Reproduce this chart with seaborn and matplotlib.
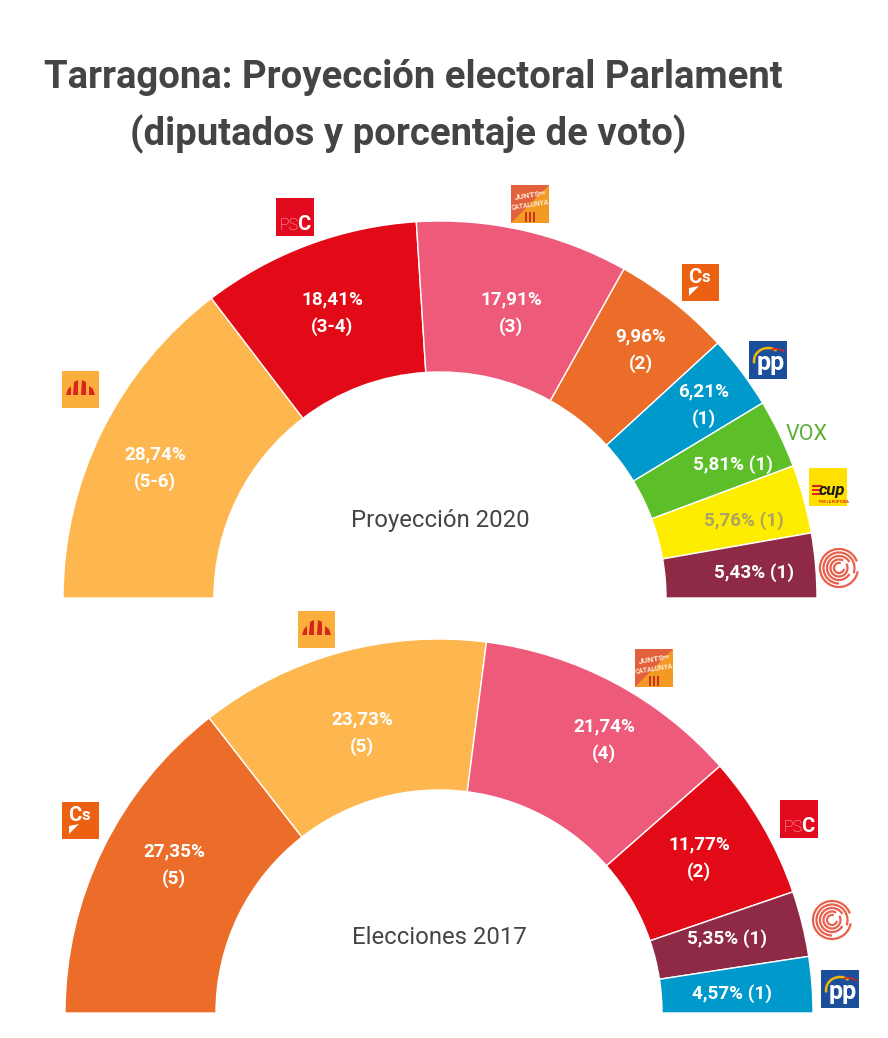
import matplotlib
matplotlib.use('Agg')
import matplotlib.pyplot as plt
import seaborn as sns
from matplotlib.patches import Rectangle, Arc, Polygon

# proyeccion 2020
parties_2020 = ['ERC', 'PSC', 'JxC', 'Cs', 'PP', 'VOX', 'CUP', 'Comuns']
pct_2020 = [28.74, 18.41, 17.91, 9.96, 6.21, 5.81, 5.76, 5.43]
seats_2020 = ['(5-6)', '(3-4)', '(3)', '(2)', '(1)', '(1)', '(1)', '(1)']

# elecciones 2017
parties_2017 = ['Cs', 'ERC', 'JxC', 'PSC', 'Comuns', 'PP']
pct_2017 = [27.35, 23.73, 21.74, 11.77, 5.35, 4.57]
seats_2017 = ['(5)', '(5)', '(4)', '(2)', '(1)', '(1)']

party_colors = {
    'ERC': '#FDB74E', 'PSC': '#E20A16', 'JxC': '#EE5A7A', 'Cs': '#EC6D29',
    'PP': '#0099CC', 'VOX': '#5CBF2A', 'CUP': '#FFED00', 'Comuns': '#8E2A45',
}

W, H = 888, 1038
DARK = '#444444'
LABEL_SIZE = 13.6

sns.set_theme(style='white')
plt.rcParams['font.family'] = ['Roboto', 'DejaVu Sans']

fig = plt.figure(figsize=(W / 100, H / 100), dpi=100, facecolor='white')
ax = fig.add_axes([0, 0, 1, 1])


def yy(py):
    # pixel rows of the picture -> axis coordinates
    return H - py


def hemicycle(values, parties, seats, cx, base, R, r, label_pos, single_line):
    colors = sns.color_palette([party_colors[p] for p in parties])
    wedges, _ = ax.pie(list(values) + [sum(values)], colors=list(colors) + ['white'],
                       center=(cx, yy(base)), radius=R, startangle=180, counterclock=False,
                       wedgeprops=dict(width=R - r, edgecolor='white', linewidth=1.0))
    wedges[-1].set_visible(False)
    for val, seat, party, (px, py), one in zip(values, seats, parties, label_pos, single_line):
        txt = f'{val:.2f}%'.replace('.', ',')
        color = '#ABA35E' if party == 'CUP' else 'white'
        if one:
            ax.text(px, yy(py), f'{txt} {seat}', color=color, fontsize=LABEL_SIZE, fontweight='bold',
                    ha='center', va='center')
        else:
            ax.text(px, yy(py - 13.5), txt, color=color, fontsize=LABEL_SIZE, fontweight='bold',
                    ha='center', va='center')
            ax.text(px, yy(py + 13.5), seat, color=color, fontsize=LABEL_SIZE, fontweight='bold',
                    ha='center', va='center')


def square(x, y, color, size=38):
    ax.add_patch(Rectangle((x, yy(y + size)), size, size, facecolor=color, edgecolor='none', zorder=3))


def poly(x, y, pts, color):
    ax.add_patch(Polygon([(x + a, yy(y + b)) for a, b in pts], facecolor=color, edgecolor='none', zorder=4))


def logo_psc(x, y):
    square(x, y, '#E20A1E')
    ax.text(x + 3, yy(y + 27), 'PS', color='#F8C8C8', fontsize=11.5, fontweight='light',
            ha='left', va='center', zorder=4)
    ax.text(x + 21.5, yy(y + 27), 'C', color='white', fontsize=14.5, fontweight='bold',
            ha='left', va='center', zorder=4)


def logo_erc(x, y):
    square(x, y, '#FBAE3C', 37)
    bars = [
        [(4, 24), (9, 24), (9, 15), (6, 18)],
        [(11, 24), (16, 24), (16, 9), (12, 11)],
        [(19, 24), (24, 24), (24, 11), (20, 9)],
        [(27, 24), (33, 24), (31, 18), (27, 15)],
    ]
    for pts in bars:
        poly(x, y, pts, '#D8261C')


def logo_jxc(x, y):
    square(x, y, '#F29A24')
    ax.add_patch(Polygon([(x, yy(y)), (x + 38, yy(y)), (x, yy(y + 38))], facecolor='#E2603C',
                         edgecolor='none', zorder=3))
    ax.text(x + 16, yy(y + 10), 'JUNTS', color='#FDEBD0', fontsize=6, fontweight='bold', rotation=9,
            ha='center', va='center', zorder=4)
    ax.text(x + 31, yy(y + 8), 'PER', color='#FDEBD0', fontsize=3, fontweight='bold', rotation=9,
            ha='center', va='center', zorder=4)
    ax.text(x + 19, yy(y + 20), 'CATALUNYA', color='#FDEBD0', fontsize=4.8, fontweight='bold', rotation=9,
            ha='center', va='center', zorder=4)
    for dx in (15, 19, 23):
        ax.add_patch(Rectangle((x + dx - 1, yy(y + 37)), 2.2, 10, facecolor='#C8351E', edgecolor='none', zorder=4))


def logo_cs(x, y):
    square(x, y, '#EC6012', 37)
    ax.text(x + 13, yy(y + 13.5), 'C', color='white', fontsize=14.5, fontweight='bold', ha='center', va='center', zorder=4)
    ax.text(x + 24, yy(y + 14), 's', color='white', fontsize=12, fontweight='bold', ha='center', va='center', zorder=4)
    poly(x, y, [(7, 24), (17, 22), (7, 32)], 'white')


def logo_pp(x, y):
    square(x, y, '#1B4F9C')
    ax.add_patch(Arc((x + 19, yy(y + 20)), 28, 26, theta1=50, theta2=190, color='#F2B705', lw=1.8, zorder=4))
    ax.add_patch(Arc((x + 27, yy(y + 13)), 18, 10, theta1=10, theta2=140, color='#D8261C', lw=1.2, zorder=4))
    ax.text(x + 22, yy(y + 22), 'pp', color='white', fontsize=18, fontweight='bold', ha='center', va='center', zorder=4)


def logo_cup(x, y):
    square(x, y, '#FFE000')
    for dy in (19, 23, 27):
        ax.add_patch(Rectangle((x + 3, yy(y + dy)), 10, 1.6, facecolor='#D8261C', edgecolor='none', zorder=4))
    ax.text(x + 23, yy(y + 22), 'cup', color='#1A1A1A', fontsize=12, fontweight='bold', style='italic',
            ha='center', va='center', zorder=4)
    ax.text(x + 25, yy(y + 34), 'PER LA RUPTURA', color='#D8261C', fontsize=2.6, fontweight='bold',
            ha='center', va='center', zorder=4)


def logo_comuns(cx, cy):
    c = (cx, yy(cy))
    rings = [(38, 20, 330), (31, 340, 290), (24, 30, 300), (17, 60, 330), (10, 70, 280)]
    for d, start, span in rings:
        ax.add_patch(Arc(c, d, d, theta1=start, theta2=start + span, color='#E8604C', lw=1.6, zorder=4))


def logo_vox(x, y):
    ax.text(x, yy(y), 'VOX', color='#5DAF35', fontsize=15.5, ha='left', va='center', zorder=4)


hemicycle(pct_2020, parties_2020, seats_2020, 440, 598, 377, 226,
          [(155, 468), (332, 313), (511, 313), (641, 350), (704, 405), (733, 465), (744, 521), (754, 573)],
          [False, False, False, False, False, True, True, True])
hemicycle(pct_2017, parties_2017, seats_2017, 439, 1013, 374, 223,
          [(174, 865), (362, 733), (604, 740), (699, 858), (727, 939), (732, 994)],
          [False, False, False, False, True, True])

# titulo y subtitulos
ax.text(44, yy(77), 'Tarragona: Proyección electoral Parlament', color=DARK, fontsize=27.5,
        fontweight='bold', ha='left', va='center')
ax.text(130, yy(134), '(diputados y porcentaje de voto)', color=DARK, fontsize=27.5,
        fontweight='bold', ha='left', va='center')
ax.text(440, yy(521), 'Proyección 2020', color=DARK, fontsize=17.2, ha='center', va='center')
ax.text(439, yy(937), 'Elecciones 2017', color=DARK, fontsize=17.2, ha='center', va='center')

# logos 2020
logo_erc(62, 371)
logo_psc(276, 198)
logo_jxc(511, 185)
logo_cs(682, 264)
logo_pp(749, 341)
logo_vox(786, 434)
logo_cup(809, 468)
logo_comuns(839, 568)

# logos 2017
logo_erc(298, 611)
logo_jxc(635, 649)
logo_cs(62, 802)
logo_psc(780, 800)
logo_comuns(832, 920)
logo_pp(821, 970)

ax.set_xlim(0, W)
ax.set_ylim(0, H)
ax.set_aspect('equal')
ax.axis('off')

fig.savefig('out.png', dpi=100, facecolor='white')
